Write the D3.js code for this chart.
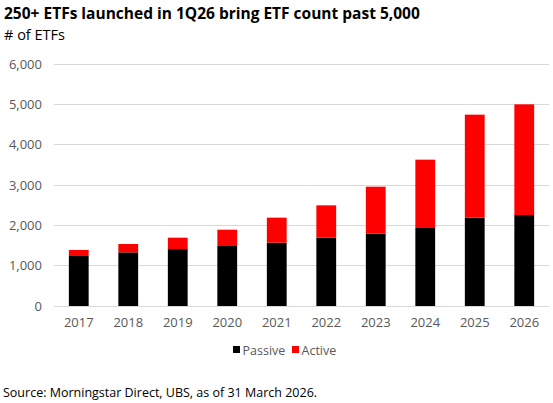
<!DOCTYPE html>
<html><head><meta charset="utf-8">
<script src="https://cdn.jsdelivr.net/npm/d3@7"></script>
<style>body{margin:0;background:#fff;}svg{display:block;font-family:"Open Sans",sans-serif;}</style>
</head><body>
<svg id="c" width="553" height="403"></svg>
<script>
const years = ["2017","2018","2019","2020","2021","2022","2023","2024","2025","2026"];
const passive = [1240,1330,1413,1488,1571,1694,1793,1951,2190,2256];
const active = [150,207,281,404,619,802,1165,1677,2554,2744];
const yTicks = [0,1000,2000,3000,4000,5000,6000];
const seriesNames = ["Passive","Active"];
const colors = ["#000000","#ff0000"];

const svg = d3.select("#c");
const x = d3.scaleBand().domain(years).range([54,549]).paddingInner(0.6).paddingOuter(0.3);
const y = d3.scaleLinear().domain([0,6000]).range([306,64]);

svg.append("text").attr("x",4).attr("y",19).attr("font-size",15.5).attr("font-weight","bold").attr("fill","#000")
  .text("250+ ETFs launched in 1Q26 bring ETF count past 5,000");
svg.append("text").attr("x",4).attr("y",40).attr("font-size",14.5).attr("fill","#000").text("# of ETFs");

svg.append("g").selectAll("line").data(yTicks).join("line")
  .attr("x1",54).attr("x2",549).attr("y1",d=>y(d)).attr("y2",d=>y(d))
  .attr("stroke","#d9d9d9").attr("stroke-width",1).attr("shape-rendering","crispEdges");

svg.append("g").selectAll("text").data(yTicks).join("text")
  .attr("x",42).attr("y",d=>y(d)+4.5).attr("text-anchor","end").attr("font-size",13).attr("fill","#595959")
  .text(d=>d3.format(",")(d));

const data = years.map((yr,i)=>({year:yr,Passive:passive[i],Active:active[i]}));
const stack = d3.stack().keys(seriesNames)(data);
svg.append("g").selectAll("g").data(stack).join("g").attr("fill",(d,i)=>colors[i])
  .selectAll("rect").data(d=>d).join("rect")
  .attr("x",d=>x(d.data.year)).attr("width",x.bandwidth())
  .attr("y",d=>y(d[1])).attr("height",d=>y(d[0])-y(d[1]));

svg.append("g").selectAll("text").data(years).join("text")
  .attr("x",d=>x(d)+x.bandwidth()/2).attr("y",327).attr("text-anchor","middle").attr("font-size",13).attr("fill","#595959")
  .text(d=>d);

const legX = [233,292];
const lg = svg.append("g");
seriesNames.forEach((n,i)=>{
  lg.append("rect").attr("x",legX[i]).attr("y",346).attr("width",7).attr("height",7).attr("fill",colors[i]);
  lg.append("text").attr("x",legX[i]+9.5).attr("y",354.5).attr("font-size",12.5).attr("fill","#595959").text(n);
});

svg.append("text").attr("x",3).attr("y",397).attr("font-size",12.5).attr("fill","#000")
  .text("Source: Morningstar Direct, UBS, as of 31 March 2026.");
</script>
</body></html>
